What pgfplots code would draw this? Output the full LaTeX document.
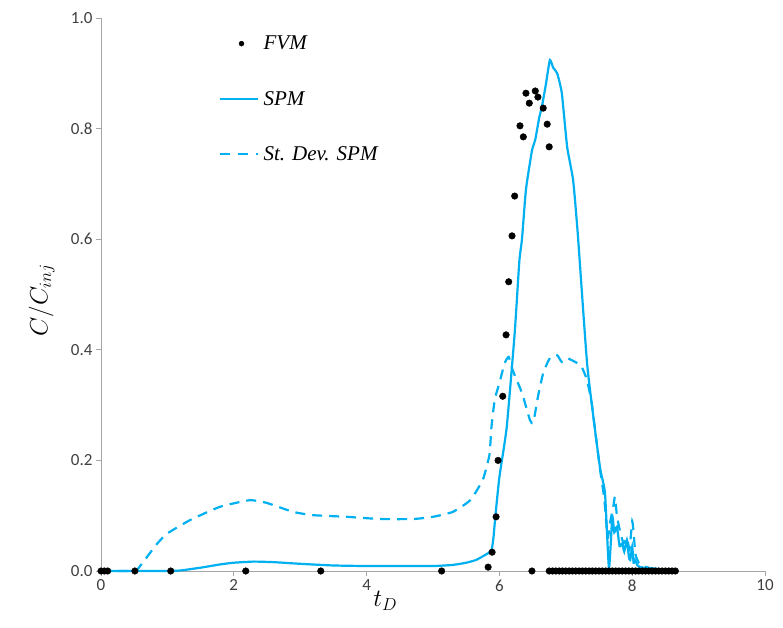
\documentclass[border=0pt]{standalone}
\usepackage{pgfplots}
\pgfplotsset{compat=1.18}
\usepackage{fontspec}
\setmainfont{Liberation Serif}
\newfontfamily\tickfont{Carlito}
\definecolor{xlblue}{HTML}{00B0F0}
\definecolor{axgray}{HTML}{A6A6A6}
\definecolor{tickgray}{HTML}{404040}
\begin{document}
\begin{tikzpicture}
\begin{axis}[
  at={(0,0)}, anchor=south west,
  scale only axis, width=664pt, height=553pt,
  xmin=0, xmax=10, ymin=0, ymax=1,
  axis lines*=left,
  axis line style={axgray, line width=0.8pt},
  xtick={0,2,4,6,8,10}, ytick={0,0.2,0.4,0.6,0.8,1.0},
  tick align=outside, major tick length=5pt,
  tick style={axgray, line width=0.8pt},
  yticklabel style={/pgf/number format/fixed, /pgf/number format/fixed zerofill, /pgf/number format/precision=1},
  /pgf/number format/assume math mode=true,
  ticklabel style={font=\tickfont\fontsize{17}{17}\selectfont, text=tickgray},
  xlabel={$t_D$}, ylabel={$C/C_{inj}$},
  xlabel style={font=\fontsize{24}{24}\selectfont, at={(axis description cs:0.428,0)}, anchor=north, yshift=-17pt},
  ylabel style={font=\fontsize{24}{24}\selectfont, at={(axis description cs:0,0.49)}, anchor=south, yshift=43pt},
  clip=false,
  legend style={draw=none, fill=none, at={(axis description cs:0.172,0.975)}, anchor=north west,
    font=\fontsize{21}{21}\selectfont\itshape, row sep=36pt, column sep=3pt},
  legend cell align=left,
]
\addplot[only marks, mark=*, mark size=3.3pt, black,
  legend image code/.code={\draw[black, fill=black] (22pt,0) circle (2.5pt);}]
coordinates {
(0,0) (0.05,0) (0.1,0) (0.51,0) (1.05,0) (2.18,0) (3.31,0) (5.13,0)
(5.83,0.007) (5.89,0.034) (5.95,0.098) (5.98,0.20) (6.05,0.316) (6.10,0.427)
(6.14,0.523) (6.19,0.606) (6.23,0.678) (6.31,0.805) (6.36,0.785) (6.40,0.864)
(6.45,0.846) (6.54,0.868) (6.58,0.857) (6.66,0.837) (6.72,0.808) (6.75,0.767)
(6.49,0)
(6.75,0) (6.80,0) (6.85,0) (6.90,0) (6.95,0) (7.00,0) (7.05,0) (7.10,0)
(7.15,0) (7.20,0) (7.25,0) (7.30,0) (7.35,0) (7.40,0) (7.45,0) (7.50,0)
(7.55,0) (7.60,0) (7.65,0) (7.70,0) (7.75,0) (7.80,0) (7.85,0) (7.90,0)
(7.95,0) (8.00,0) (8.05,0) (8.10,0) (8.15,0) (8.20,0) (8.25,0) (8.30,0)
(8.35,0) (8.40,0) (8.45,0) (8.50,0) (8.55,0) (8.60,0) (8.65,0)
};
\addlegendentry{FVM}
\addplot[xlblue, line width=2.2pt, smooth, tension=0.3,
  legend image code/.code={\draw[xlblue, line width=2.2pt] (0pt,0) -- (38pt,0);}]
coordinates {
(0,0) (0.5,0) (1.0,0) (1.2,0.001) (1.5,0.006) (1.8,0.012) (2.0,0.015) (2.3,0.017)
(2.6,0.016) (3.0,0.013) (3.5,0.010) (4.0,0.009) (4.5,0.009) (5.0,0.009) (5.3,0.011)
(5.5,0.015) (5.65,0.020) (5.8,0.030) (5.88,0.037) (5.91,0.06) (5.94,0.10) (6.0,0.17)
(6.11,0.26) (6.23,0.43) (6.3,0.56) (6.34,0.60) (6.4,0.69) (6.49,0.76) (6.54,0.78)
(6.6,0.82) (6.64,0.84) (6.7,0.88) (6.76,0.924) (6.81,0.91) (6.87,0.90) (6.94,0.864)
(7.02,0.767) (7.11,0.707) (7.18,0.61) (7.32,0.376) (7.44,0.255) (7.52,0.183)
(7.59,0.141) (7.65,0.005) (7.70,0.098) (7.73,0.07) (7.77,0.08) (7.81,0.045)
(7.85,0.05) (7.88,0.035) (7.92,0.056) (7.95,0.025) (7.97,0.02) (8.0,0.044)
(8.02,0.015) (8.04,0.02) (8.08,0.01) (8.12,0.007) (8.25,0.005) (8.37,0.004)
(8.5,0.001) (8.6,0)
};
\addlegendentry{SPM}
\addplot[xlblue, line width=2.2pt, dash pattern=on 10pt off 7pt, smooth, tension=0.3,
  legend image code/.code={\draw[xlblue, line width=2.2pt, dash pattern=on 10pt off 8pt] (0pt,0) -- (38pt,0);}]
coordinates {
(0,0) (0.5,0) (0.55,0.003) (0.69,0.025) (0.85,0.05) (1.0,0.068) (1.34,0.092)
(1.79,0.116) (2.24,0.128) (2.5,0.123) (2.89,0.107) (3.19,0.101) (3.7,0.098)
(4.2,0.094) (4.7,0.094) (5.0,0.098) (5.3,0.107) (5.56,0.128) (5.75,0.165)
(5.85,0.21) (5.88,0.26) (5.93,0.31) (6.0,0.34) (6.08,0.376) (6.14,0.387)
(6.2,0.363) (6.34,0.322) (6.46,0.273) (6.51,0.268) (6.58,0.315) (6.66,0.358)
(6.76,0.385) (6.87,0.39) (6.94,0.378) (7.02,0.385) (7.17,0.376) (7.24,0.369)
(7.32,0.345) (7.39,0.304) (7.44,0.255) (7.52,0.18) (7.58,0.13) (7.63,0.06)
(7.67,0.09) (7.72,0.12) (7.74,0.134) (7.77,0.10) (7.82,0.07) (7.87,0.05)
(7.92,0.06) (7.96,0.04) (8.0,0.09) (8.02,0.07) (8.05,0.03) (8.1,0.015)
(8.22,0.007) (8.35,0.003) (8.45,0)
};
\addlegendentry{St. Dev. SPM}
\end{axis}
\pgfresetboundingbox
\path (-101pt,-57pt) rectangle (682pt,571pt);
\end{tikzpicture}
\end{document}
